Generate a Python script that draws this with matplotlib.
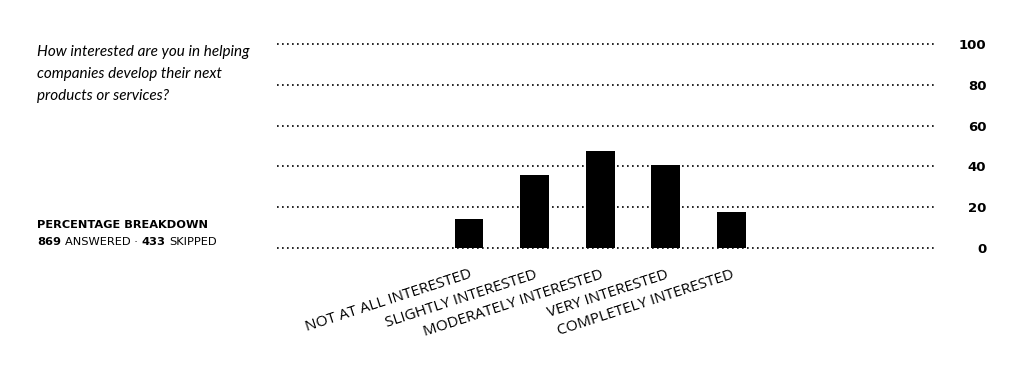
import numpy as np
import matplotlib.pyplot as plt

categories = ["NOT AT ALL INTERESTED", "SLIGHTLY INTERESTED", "MODERATELY INTERESTED",
              "VERY INTERESTED", "COMPLETELY INTERESTED"]
values = [14.1, 35.6, 47.4, 40.7, 17.6]
yticks = [0, 20, 40, 60, 80, 100]
question = "How interested are you in helping\ncompanies develop their next\nproducts or services?"
answered = 869
skipped = 433

plt.rcParams['font.family'] = ['Open Sans', 'DejaVu Sans']

fig = plt.figure(figsize=(10.24, 3.82), dpi=100)
ax = fig.add_axes([0.2705, 0.3516, 0.6426, 0.5325])

x = np.arange(len(categories))
ax.bar(x, values, width=0.44, color='black', zorder=3)

for t in yticks:
    ax.axhline(t, color='black', linestyle=(0, (1, 2)), linewidth=1.2, zorder=1, clip_on=False)

ax.set_xlim(-2.93, 7.11)
ax.set_ylim(0, 100)
for s in ax.spines.values():
    s.set_visible(False)

ax.set_xticks(x)
ax.set_xticklabels(categories, rotation=18, ha='right', rotation_mode='anchor',
                   fontsize=11)
ax.tick_params(axis='x', length=0, pad=14)

ax.yaxis.tick_right()
ax.set_yticks(yticks)
ax.set_yticklabels([str(t) for t in yticks], fontsize=9.5, fontweight='bold', ha='right',
                   family='DejaVu Sans')
ax.tick_params(axis='y', length=0, pad=37)

fig.text(0.036, 0.882, question, fontsize=11, style='italic', family='Lato',
         va='top', ha='left', linespacing=1.72)

small = dict(fontsize=8.2, family='DejaVu Sans', va='center', ha='left')
fig.text(0.036, 0.412, "PERCENTAGE BREAKDOWN", fontweight='bold', **small)
t1 = fig.text(0.036, 0.367, str(answered), fontweight='bold', **small)
fig.canvas.draw()
r = fig.canvas.get_renderer()
bb = t1.get_window_extent(r)
t2 = fig.text(bb.x1 / fig.bbox.width + 0.004, 0.367, "ANSWERED · ", **small)
bb = t2.get_window_extent(r)
t3 = fig.text(bb.x1 / fig.bbox.width, 0.367, str(skipped), fontweight='bold', **small)
bb = t3.get_window_extent(r)
fig.text(bb.x1 / fig.bbox.width + 0.004, 0.367, "SKIPPED", **small)

fig.savefig("out.png", dpi=100)
